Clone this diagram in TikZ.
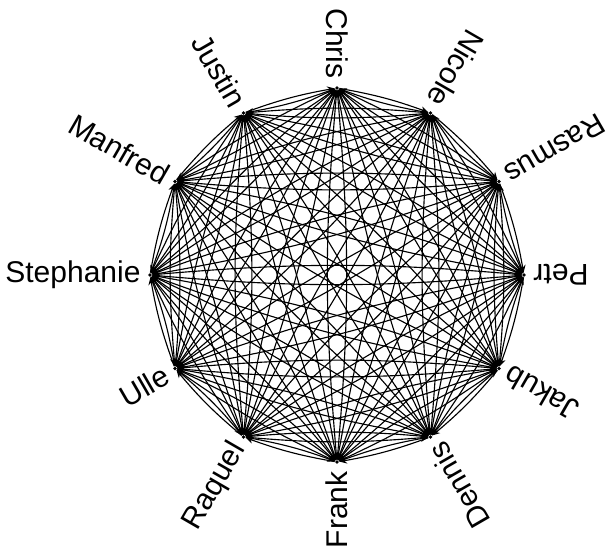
\documentclass[tikz,border=0pt]{standalone}
\usepackage{fontspec}
\setmainfont{Liberation Sans}
\usetikzlibrary{arrows.meta}

\begin{document}
\begin{tikzpicture}[
  x=0.4pt, y=0.4pt,
  vertex/.style={circle, fill=black, inner sep=0pt, minimum size=1.5pt},
  lbl/.style={anchor=east, inner sep=0pt, font=\fontsize{12}{14}\selectfont},
  edge/.style={-{Stealth[length=3pt,width=2.6pt]}, line width=0.45pt}
]
  \useasboundingbox (-337,-271) rectangle (270,275);

  % Knoten auf dem Kreis, Beschriftung radial nach aussen
  \foreach \who/\ang [count=\i] in {Petr/0, Rasmus/30, Nicole/60, Chris/90, Justin/120, Manfred/150,
      Stephanie/180, Ulle/210, Raquel/240, Frank/270, Dennis/300, Jakub/330}{
    \node[vertex] (v\i) at (\ang:187) {};
    \node[lbl, rotate=\ang+180] (l\i) at (\ang:196) {\who};
  }

  % jeder mit jedem, in beide Richtungen
  \foreach \i in {1,...,12}{
    \foreach \j in {1,...,12}{
      \ifnum\i=\j\else
        \draw[edge] (v\i) to[bend left=5] (v\j);
      \fi
    }
  }
\end{tikzpicture}
\end{document}
